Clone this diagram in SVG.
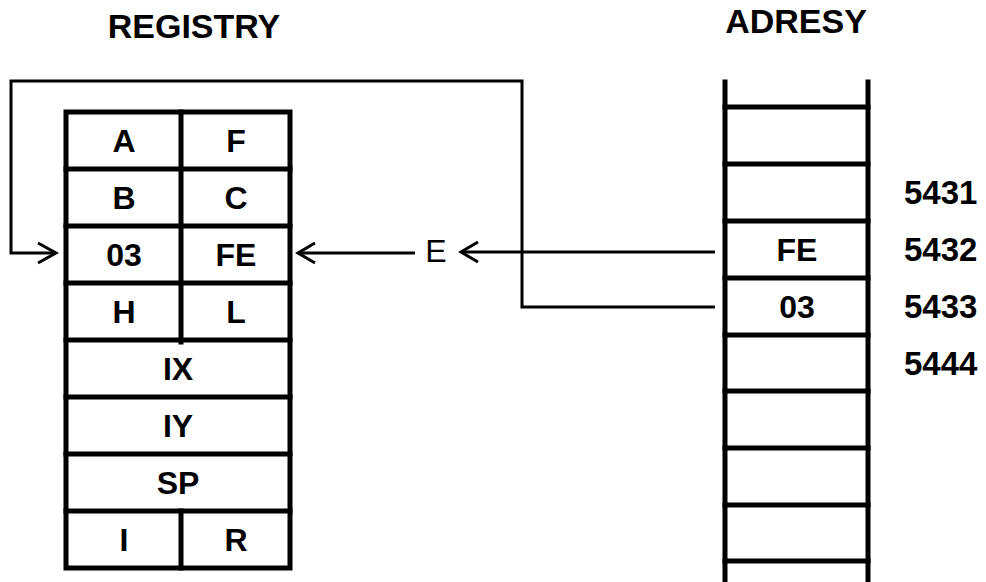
<svg xmlns="http://www.w3.org/2000/svg" width="986" height="582" viewBox="0 0 986 582">
  <style>
    .grid { fill: none; stroke: #000; stroke-width: 5; stroke-linecap: square; }
    .wire { fill: none; stroke: #000; stroke-width: 3; }
    .head { fill: none; stroke: #000; stroke-width: 3; stroke-linejoin: miter; }
    .lbl { font-family: "Liberation Sans", Arial, sans-serif; font-weight: bold; font-size: 32px; text-anchor: middle; fill: #000; }
    .ttl { font-family: "Liberation Sans", Arial, sans-serif; font-weight: bold; font-size: 34px; text-anchor: middle; fill: #000; }
    .adr { font-family: "Liberation Sans", Arial, sans-serif; font-weight: bold; font-size: 33px; text-anchor: start; fill: #000; }
    .reg { font-family: "Liberation Sans", Arial, sans-serif; font-weight: normal; font-size: 32px; text-anchor: middle; fill: #000; }
  </style>

  <!-- headings -->
  <text class="ttl" x="194" y="38">REGISTRY</text>
  <text class="ttl" x="796" y="33">ADRESY</text>

  <!-- register file -->
  <g id="registers">
    <rect class="grid" x="66" y="112" width="224" height="456"/>
    <line class="grid" x1="66" y1="169" x2="290" y2="169"/>
    <line class="grid" x1="66" y1="226" x2="290" y2="226"/>
    <line class="grid" x1="66" y1="283" x2="290" y2="283"/>
    <line class="grid" x1="66" y1="340" x2="290" y2="340"/>
    <line class="grid" x1="66" y1="397" x2="290" y2="397"/>
    <line class="grid" x1="66" y1="454" x2="290" y2="454"/>
    <line class="grid" x1="66" y1="511" x2="290" y2="511"/>
    <line class="grid" x1="181" y1="112" x2="181" y2="342"/>
    <line class="grid" x1="181" y1="511" x2="181" y2="568"/>
  </g>
  <g id="reg-AF"><text class="lbl" x="124" y="152">A</text><text class="lbl" x="236" y="152">F</text></g>
  <g id="reg-BC"><text class="lbl" x="124" y="209">B</text><text class="lbl" x="236" y="209">C</text></g>
  <g id="reg-DE"><text class="lbl" x="124" y="266">03</text><text class="lbl" x="236" y="266">FE</text></g>
  <g id="reg-HL"><text class="lbl" x="124" y="323">H</text><text class="lbl" x="236" y="323">L</text></g>
  <g id="reg-IX"><text class="lbl" x="178" y="380">IX</text></g>
  <g id="reg-IY"><text class="lbl" x="178" y="437">IY</text></g>
  <g id="reg-SP"><text class="lbl" x="178" y="494">SP</text></g>
  <g id="reg-IR"><text class="lbl" x="124" y="551">I</text><text class="lbl" x="236" y="551">R</text></g>

  <!-- memory column -->
  <g id="memory">
    <line class="grid" x1="725" y1="82" x2="725" y2="590"/>
    <line class="grid" x1="868" y1="82" x2="868" y2="590"/>
    <line class="grid" x1="725" y1="107" x2="868" y2="107"/>
    <line class="grid" x1="725" y1="164" x2="868" y2="164"/>
    <line class="grid" x1="725" y1="221" x2="868" y2="221"/>
    <line class="grid" x1="725" y1="278" x2="868" y2="278"/>
    <line class="grid" x1="725" y1="335" x2="868" y2="335"/>
    <line class="grid" x1="725" y1="391" x2="868" y2="391"/>
    <line class="grid" x1="725" y1="448" x2="868" y2="448"/>
    <line class="grid" x1="725" y1="505" x2="868" y2="505"/>
    <line class="grid" x1="725" y1="561" x2="868" y2="561"/>
  </g>
  <g id="mem-5432"><text class="lbl" x="797" y="261">FE</text></g>
  <g id="mem-5433"><text class="lbl" x="797" y="318">03</text></g>
  <g id="addresses">
    <text class="adr" x="904" y="204">5431</text>
    <text class="adr" x="904" y="261">5432</text>
    <text class="adr" x="904" y="318">5433</text>
    <text class="adr" x="904" y="375">5444</text>
  </g>
  <g id="reg-E"><text class="reg" x="436" y="262">E</text></g>

  <!-- data transfers -->
  <g id="connectors">
    <path class="wire" d="M715,307 H522 V81 H11 V253 H56"/>
    <polyline class="head" points="38,243 56,253 38,263"/>
    <line class="wire" x1="298" y1="253" x2="415" y2="253"/>
    <polyline class="head" points="315,243 298,253 315,263"/>
    <line class="wire" x1="461" y1="252" x2="715" y2="252"/>
    <polyline class="head" points="478,242 461,252 478,262"/>
  </g>
</svg>
